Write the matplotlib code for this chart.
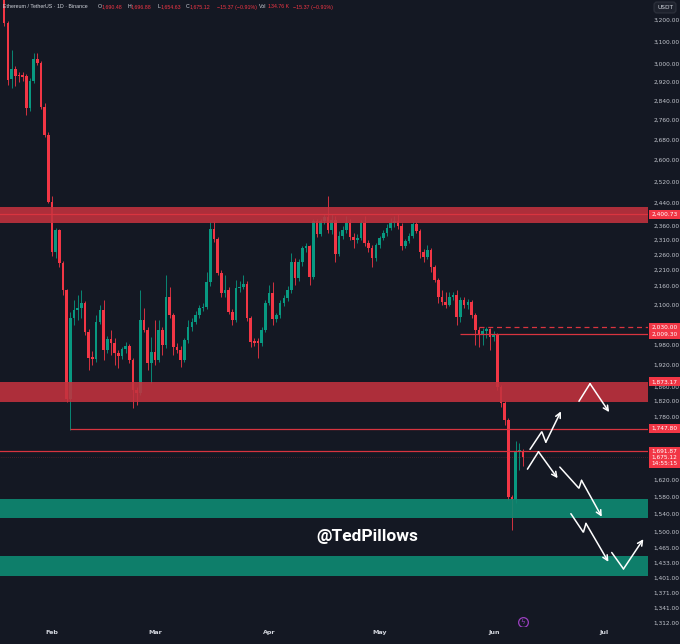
import matplotlib
matplotlib.use("Agg")
import matplotlib.pyplot as plt
import matplotlib.transforms as mtransforms
from matplotlib.ticker import NullLocator

# daily candles, Jan 19 .. Jun 9 (index 0 = Jan 19)
opens = [3330, 3185, 2933, 2977, 2950, 2951, 2946, 2810, 2925, 3021,
         3004, 2815, 2701, 2445, 2269, 2345, 2233, 2145, 1827, 2058,
         2083, 2089, 2105, 2016, 1943, 1937, 2046, 2083, 1963, 1995,
         1983, 1954, 1945, 1966, 1975, 1934, 1850, 1842, 2052, 2022,
         1925, 1957, 1934, 2022, 1978, 2123, 2067, 1972, 1963, 1934,
         1992, 2031, 2046, 2067, 2089, 2093, 2170, 2348, 2313, 2200,
         2136, 2145, 2077, 2052, 2151, 2155, 2164, 2058, 1990, 1990,
         1983, 2022, 2105, 2136, 2055, 2067, 2105, 2120, 2145, 2236,
         2183, 2236, 2283, 2290, 2187, 2376, 2331, 2376, 2390, 2345,
         2380, 2263, 2324, 2345, 2369, 2320, 2310, 2317, 2369, 2300,
         2283, 2250, 2293, 2317, 2334, 2352, 2369, 2376, 2359, 2290,
         2307, 2324, 2366, 2341, 2270, 2253, 2276, 2220, 2177, 2123,
         2108, 2100, 2123, 2130, 2061, 2114, 2099, 2108, 2067, 2022,
         2007, 2019, 2025, 2001, 2009, 1860, 1815, 1769, 1579, 1572,
         1690, 1690.48]
highs = [3350, 3195, 3061, 2990, 2964, 2962, 2955, 2935, 3048, 3048,
         3010, 2830, 2710, 2467, 2352, 2350, 2240, 2150, 2077, 2114,
         2129, 2145, 2110, 2025, 1960, 2067, 2099, 2114, 2005, 2022,
         2000, 1963, 1972, 1986, 1980, 1940, 1860, 2145, 2089, 2030,
         2001, 2052, 2052, 2030, 2193, 2155, 2075, 1985, 1975, 1998,
         2052, 2060, 2080, 2100, 2105, 2203, 2373, 2376, 2320, 2210,
         2193, 2155, 2085, 2177, 2175, 2193, 2175, 2065, 2000, 1998,
         2030, 2115, 2161, 2170, 2075, 2115, 2130, 2160, 2266, 2250,
         2245, 2290, 2300, 2295, 2385, 2385, 2385, 2400, 2465, 2400,
         2395, 2340, 2360, 2394, 2385, 2335, 2330, 2380, 2394, 2310,
         2295, 2300, 2325, 2345, 2365, 2387, 2395, 2401, 2370, 2315,
         2335, 2373, 2373, 2350, 2280, 2293, 2285, 2228, 2185, 2145,
         2139, 2139, 2139, 2145, 2125, 2125, 2118, 2115, 2075, 2031,
         2028, 2032, 2028, 2020, 2013, 1865, 1820, 1775, 1585, 1715,
         1712, 1696.88]
lows = [3170, 2908, 2895, 2900, 2920, 2925, 2782, 2795, 2915, 2995,
        2805, 2690, 2440, 2255, 2250, 2220, 2130, 1817, 1743, 2037,
        2052, 2058, 2007, 1905, 1920, 1928, 2040, 1934, 1955, 1948,
        1920, 1911, 1938, 1955, 1925, 1801, 1809, 1836, 2015, 1905,
        1871, 1920, 1930, 1948, 1970, 2060, 1948, 1955, 1914, 1928,
        1985, 2020, 2040, 2060, 2080, 2085, 2160, 2305, 2195, 2125,
        2125, 2070, 2037, 2045, 2140, 2150, 2050, 1972, 1975, 1940,
        1975, 2015, 2100, 2037, 2045, 2060, 2095, 2110, 2135, 2161,
        2175, 2225, 2270, 2161, 2180, 2320, 2325, 2365, 2335, 2330,
        2236, 2255, 2315, 2335, 2310, 2283, 2300, 2312, 2290, 2270,
        2220, 2240, 2285, 2310, 2325, 2345, 2355, 2350, 2276, 2283,
        2300, 2318, 2335, 2250, 2236, 2245, 2203, 2170, 2105, 2099,
        2089, 2095, 2115, 2037, 2046, 2090, 2085, 2060, 1978, 1972,
        1978, 2000, 1963, 1990, 1850, 1804, 1756, 1572, 1504, 1565,
        1643, 1654.63]
closes = [3185, 2929, 2977, 2946, 2945, 2942, 2810, 2925, 3021, 3004,
          2815, 2701, 2445, 2269, 2345, 2233, 2145, 1827, 2058, 2083,
          2089, 2105, 2016, 1940, 1937, 2046, 2083, 1963, 1995, 1983,
          1954, 1945, 1966, 1975, 1934, 1850, 1842, 2052, 2022, 1925,
          1957, 1934, 2022, 1978, 2123, 2067, 1972, 1963, 1934, 1992,
          2031, 2046, 2067, 2089, 2093, 2170, 2348, 2313, 2200, 2136,
          2145, 2077, 2052, 2151, 2155, 2164, 2058, 1986, 1983, 1983,
          2022, 2105, 2136, 2055, 2067, 2105, 2120, 2145, 2236, 2183,
          2236, 2283, 2290, 2187, 2376, 2331, 2376, 2390, 2345, 2380,
          2263, 2324, 2345, 2369, 2320, 2310, 2317, 2369, 2300, 2283,
          2250, 2293, 2317, 2334, 2352, 2369, 2376, 2359, 2290, 2307,
          2324, 2366, 2341, 2270, 2253, 2276, 2220, 2177, 2123, 2108,
          2100, 2123, 2130, 2061, 2114, 2099, 2108, 2067, 2022, 2007,
          2019, 2025, 2001, 2009, 1860, 1815, 1769, 1579, 1572, 1690,
          1692, 1675.12]

month_pos = [13, 41, 72, 102, 133, 163]
month_labels = ["Feb", "Mar", "Apr", "May", "Jun", "Jul"]

price_ticks = [3200, 3100, 3000, 2920, 2840, 2760, 2680, 2600, 2520, 2440,
               2360, 2310, 2260, 2210, 2160, 2100, 1980, 1920, 1860, 1820,
               1780, 1620, 1580, 1540, 1500, 1465, 1433, 1401, 1371, 1341, 1312]

# zones (low, high)
red_zones = [(2369, 2426), (1819, 1873.17)]
green_zones = [(1531, 1575), (1405, 1447)]

# level lines: price, start index, dashed
levels = [(2400.73, -2, False), (2030.00, 129, True), (2009.30, 124, False),
          (1747.80, 18, False), (1691.87, -2, False)]

# hand drawn path arrows (day index, price)
paths = [
    [(142.9, 1695), (146.1, 1740), (147.2, 1713), (151.3, 1793)],
    [(156.2, 1820), (159.2, 1868), (164.4, 1791)],
    [(142.2, 1646), (145.2, 1689), (150.4, 1624)],
    [(151.0, 1651), (156.2, 1600), (156.9, 1619), (162.4, 1534)],
    [(154.0, 1541), (157.4, 1499), (158.1, 1519), (164.2, 1435)],
    [(165.1, 1455), (168.3, 1420), (173.7, 1484)],
]

BG = "#141823"
UP = "#089981"
DOWN = "#f23645"
LEVEL = "#d9343f"

fig = plt.figure(figsize=(6.8, 6.44), dpi=100)
fig.patch.set_facecolor(BG)
ax = fig.add_axes([0, 18 / 644, 648 / 680, 626 / 644])
ax.set_facecolor(BG)
ax.set_yscale("log")
ax.set_ylim(1305, 3296)
ax.set_xlim(-1.13, 174.96)
for s in ax.spines.values():
    s.set_visible(False)

# candles
for i in range(len(opens)):
    o, h, l, c = opens[i], highs[i], lows[i], closes[i]
    col = UP if c >= o else DOWN
    ax.vlines(i, l, h, color=col, lw=0.6, zorder=2)
    lo, hi = min(o, c), max(o, c)
    if hi - lo < lo * 0.002:
        hi = lo * 1.002
    ax.bar(i, hi - lo, bottom=lo, width=0.72, color=col, lw=0, zorder=2)

# zones drawn over the candles like the chart drawings
for lo, hi in red_zones:
    ax.axhspan(lo, hi, color="#c3323e", alpha=0.88, lw=0, zorder=3)
for lo, hi in green_zones:
    ax.axhspan(lo, hi, color="#0e8a72", alpha=0.9, lw=0, zorder=3)

xr = ax.get_xlim()[1]
for p, start, dashed in levels:
    ax.hlines(p, start, xr, color=LEVEL, lw=0.9,
              linestyles=(0, (4, 3)) if dashed else "solid", zorder=4)
ax.hlines(1675.12, -2, xr, color=LEVEL, lw=0.5, alpha=0.5,
          linestyles=(0, (1, 2)), zorder=4)

for pts in paths:
    xs = [p[0] for p in pts]
    ys = [p[1] for p in pts]
    ax.plot(xs[:-1], ys[:-1], color="white", lw=1.1, zorder=5,
            solid_capstyle="round", solid_joinstyle="miter")
    ax.annotate("", xy=pts[-1], xytext=pts[-2],
                arrowprops=dict(arrowstyle="->", color="white", lw=1.1,
                                shrinkA=0, shrinkB=0, mutation_scale=9),
                zorder=5)

ax.text(98.6, 1489, "@TedPillows", color="white", fontsize=12.5,
        fontweight="bold", family="Roboto", ha="center", va="center", zorder=6)

# small replay icon near bottom
ax.plot([141], [1313], marker="o", ms=7, mfc="none", mec="#9b3fc0", mew=0.9,
        zorder=6)
ax.text(141, 1313, "ϟ", color="#9b3fc0", fontsize=5, ha="center",
        va="center", zorder=6)

# right price scale
ax.yaxis.tick_right()
ax.yaxis.set_minor_locator(NullLocator())
ax.set_yticks(price_ticks)
ax.set_yticklabels([f"{v:,.2f}" for v in price_ticks])
ax.tick_params(axis="y", length=0, pad=4, labelsize=4.2, labelcolor="#c3c6ce")

ax.set_xticks(month_pos)
ax.set_xticklabels(month_labels)
ax.tick_params(axis="x", length=0, pad=3, labelsize=4.6, labelcolor="#d1d4dc")
for t in ax.get_xticklabels():
    t.set_fontweight("bold")

trans = mtransforms.blended_transform_factory(ax.transAxes, ax.transData)
box_labels = [(2400.73, "2,400.73"), (2030.00, "2,030.00"),
              (2009.30, "2,009.30"), (1873.17, "1,873.17"),
              (1747.80, "1,747.80")]
for p, txt in box_labels:
    ax.text(1.0255, p, txt, transform=trans, fontsize=4.2, color="white",
            ha="center", va="center", zorder=7, clip_on=False,
            bbox=dict(boxstyle="square,pad=0.35", fc="#f23645", ec="none"))
ax.text(1.0255, 1675.12, "1,691.87\n1,675.12\n14:55:15", transform=trans,
        fontsize=4.2, color="white", ha="center", va="center", zorder=7,
        linespacing=1.25, clip_on=False,
        bbox=dict(boxstyle="square,pad=0.35", fc="#f23645", ec="none"))

fig.text(665 / 680, 1 - 7.5 / 644, "USDT", fontsize=4.2, color="#d1d4dc",
         ha="center", va="center",
         bbox=dict(boxstyle="round,pad=0.5", fc="#1e222d", ec="#2a2e39"))

# header legend
yh = 1 - 7 / 644
head = [(2.7, "Ethereum / TetherUS · 1D · Binance", "#d1d4dc"),
        (97.7, "O", "#d1d4dc"), (101.7, "1,690.48", DOWN),
        (127.3, "H", "#d1d4dc"), (130.7, "1,696.88", DOWN),
        (157.3, "L", "#d1d4dc"), (161.0, "1,654.63", DOWN),
        (186.0, "C", "#d1d4dc"), (190.0, "1,675.12", DOWN),
        (216.7, "−15.37 (−0.91%)", DOWN),
        (259.3, "Vol", "#d1d4dc"), (268.3, "134.76 K", DOWN),
        (293.0, "−15.37 (−0.91%)", DOWN)]
for x, txt, col in head:
    fig.text(x / 680, yh, txt, fontsize=3.8, color=col, ha="left",
             va="center", family="Liberation Sans")

fig.savefig("out.png", dpi=100, facecolor=BG)
